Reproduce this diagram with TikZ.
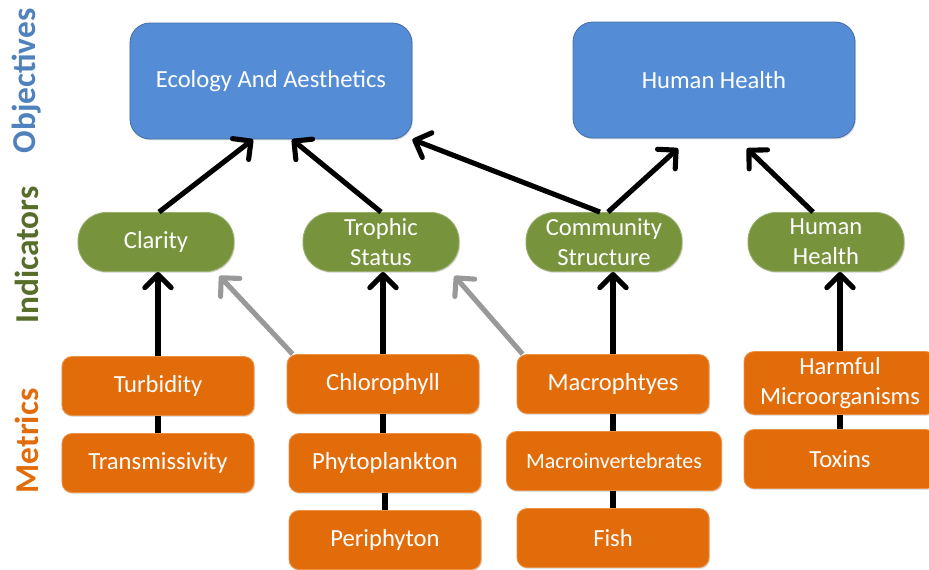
\documentclass[tikz,border=0pt]{standalone}
\usepackage{fontspec}
\setmainfont{Carlito}
\definecolor{ObjBlue}  {RGB}{84,141,213}
\definecolor{ObjEdge}  {RGB}{70,112,168}
\definecolor{IndGreen} {RGB}{119,147,60}
\definecolor{MetOrange}{RGB}{227,108,10}
\definecolor{LblBlue}  {RGB}{79,129,189}
\definecolor{LblGreen} {RGB}{86,110,42}
\usetikzlibrary{arrows.meta,calc,shadows}

\begin{document}
\begin{tikzpicture}[x=0.2mm,y=-0.2mm,
  objbox/.style={fill=ObjBlue,draw=ObjEdge,line width=0.5pt,rounded corners=0.4cm,
       minimum width=5.64cm,minimum height=2.32cm,text=white,
       font=\fontsize{14}{17}\selectfont,
       drop shadow={shadow xshift=0.6pt,shadow yshift=-0.8pt,opacity=0.25}},
  indbox/.style={fill=IndGreen,draw=IndGreen!75!white,line width=0.5pt,
       rounded corners=0.56cm,minimum width=3.12cm,minimum height=1.18cm,
       align=center,text=white,font=\fontsize{14}{17}\selectfont,
       drop shadow={shadow xshift=0.6pt,shadow yshift=-0.8pt,opacity=0.25}},
  metbox/.style={fill=MetOrange,draw=MetOrange!75!white,line width=0.5pt,
       rounded corners=0.2cm,minimum width=3.84cm,minimum height=1.18cm,
       align=center,text=white,font=\fontsize{14}{17}\selectfont,
       drop shadow={shadow xshift=0.6pt,shadow yshift=-0.8pt,opacity=0.25}},
  link/.style={line width=2.9pt,-{Straight Barb[length=7.5pt,width=15pt,round]}},
  chain/.style={line width=2.9pt},
  side/.style={rotate=90,font=\bfseries\fontsize{19}{22}\selectfont}]
  \useasboundingbox (0,0) rectangle (929,569);
  \clip (0,0) rectangle (929,569);
  %% Side labels
  \node[side,text=LblBlue]   (objlbl) at (27,81)  {Objectives};
  \node[side,text=LblGreen]  (indlbl) at (27,255) {Indicators};
  \node[side,text=MetOrange] (metlbl) at (27,441) {Metrics};
  %% Objectives
  \node[objbox] (eco)    at (271,81) {Ecology And Aesthetics};
  \node[objbox] (health) at (714,80) {Human Health};
  %% Indicators
  \node[indbox] (clar)  at (156,242) {Clarity};
  \node[indbox] (troph) at (381,242) {Trophic\\Status};
  \node[indbox] (comm)  at (604,242) {Community\\Structure};
  \node[indbox] (hhind) at (826,242) {Human\\Health};
  %% Metrics
  \node[metbox] (turb)  at (158,386) {Turbidity};
  \node[metbox] (trans) at (158,463) {Transmissivity};
  \node[metbox] (chl)   at (383,384) {Chlorophyll};
  \node[metbox] (phyto) at (385,463) {Phytoplankton};
  \node[metbox] (peri)  at (385,540) {Periphyton};
  \node[metbox] (macro) at (613,384) {Macrophtyes};
  \node[metbox,minimum width=4.3cm,font=\fontsize{12.5}{15}\selectfont]
       (inv) at (614,461) {Macroinvertebrates};
  \node[metbox] (fish)  at (613,538) {Fish};
  \node[metbox] (harm)  at (840,383) {Harmful\\Microorganisms};
  \node[metbox] (tox)   at (840,459) {Toxins};
  %% Metric chains
  \draw[chain] (turb.south) -- (turb.south |- trans.north);
  \draw[chain] (chl.south) -- (chl.south |- phyto.north);
  \draw[chain] (phyto.south) -- (phyto.south |- peri.north);
  \draw[chain] (macro.south) -- (macro.south |- inv.north);
  \draw[chain] (macro.south |- inv.south) -- (macro.south |- fish.north);
  \draw[chain] (harm.south) -- (harm.south |- tox.north);
  %% Metrics to indicators
  \draw[link] (turb.north) -- (turb.north |- clar.south);
  \draw[link] (chl.north) -- (chl.north |- troph.south);
  \draw[link] (macro.north) -- (macro.north |- comm.south);
  \draw[link] (harm.north) -- (harm.north |- hhind.south);
  \draw[link,gray!80] ($(chl.north west)+(6,0)$) -- ($(clar.south east)+(-15,4)$);
  \draw[link,gray!80] ($(macro.north west)+(6,0)$) -- ($(troph.south east)+(-5,4)$);
  %% Indicators to objectives
  \draw[link] ($(clar.north)+(3,0)$) -- ($(eco.south)+(-18,0)$);
  \draw[link] (troph.north) -- ($(eco.south)+(21,0)$);
  \draw[link] ($(comm.north)+(-4,0)$) -- (eco.south east);
  \draw[link] ($(comm.north)+(4,0)$) -- ($(health.south)+(-36,10)$);
  \draw[link] ($(hhind.north)+(-13,0)$) -- ($(health.south)+(33,10)$);
\end{tikzpicture}
\end{document}
